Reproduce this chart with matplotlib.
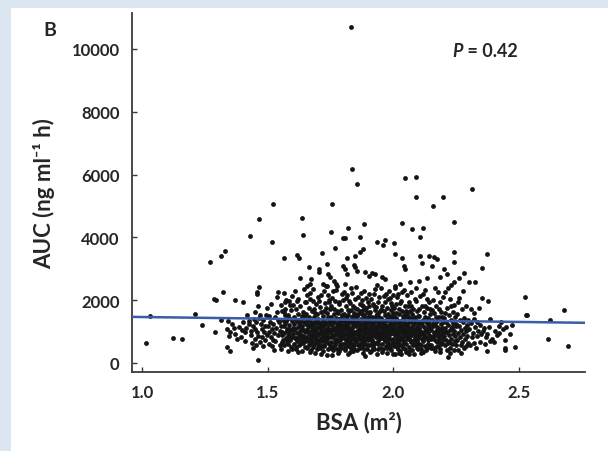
import matplotlib
matplotlib.use("Agg")
import matplotlib.pyplot as plt
from matplotlib.patches import Rectangle

# ---------------- data (BSA in m^2, AUC in ng ml-1 h) ----------------
pts_sparse_left = [(1.017, 637), (1.030, 1487), (1.122, 796), (1.159, 754), (1.212, 1571),
                   (1.238, 1210), (1.270, 3226), (1.286, 2038), (1.294, 1997), (1.292, 977),
                   (1.315, 3398), (1.316, 1360), (1.324, 2251), (1.330, 3567), (1.337, 500),
                   (1.352, 392), (1.345, 870), (1.337, 1083), (1.344, 1347), (1.350, 977)]

pts_upper = [(1.830, 10700),
             (1.523, 5054), (1.465, 4576), (1.636, 4628), (1.756, 5073), (1.428, 4054), (1.517, 3843),
             (1.640, 4076), (1.752, 4182), (1.563, 3334), (1.616, 3440), (1.625, 3354), (1.717, 3503),
             (1.768, 3662), (1.664, 3046), (1.736, 3153), (1.629, 2697), (1.706, 2994), (1.706, 2888),
             (1.742, 2834), (1.749, 2729), (1.673, 2675), (1.465, 2430), (1.656, 2462), (1.669, 2516),
             (1.722, 2516), (1.736, 2462), (1.762, 2621), (1.776, 2462),
             (1.835, 6178), (1.855, 5710), (2.045, 5882), (2.089, 5924), (2.089, 5287), (2.199, 5287),
             (2.315, 5532), (2.158, 4990), (2.240, 4490), (2.036, 4448), (1.883, 4417), (1.820, 4299),
             (2.073, 4268), (2.117, 4289), (2.108, 4024), (1.800, 3971), (1.809, 3990), (1.869, 4001),
             (1.937, 3843), (1.959, 3758), (1.968, 3927), (2.001, 3812), (1.878, 3631), (1.869, 3525),
             (2.005, 3461), (2.035, 3354), (2.108, 3408), (2.161, 3365), (2.174, 3312), (2.240, 3545),
             (2.240, 3206), (1.816, 3354), (1.849, 3398), (1.800, 3100), (1.807, 2994), (1.816, 2834),
             (1.842, 3121), (1.849, 3046), (1.855, 2940), (1.888, 2888), (1.902, 2780), (1.915, 2866),
             (1.928, 2834), (1.955, 2729), (1.968, 2675), (2.041, 3100), (2.048, 2994), (2.114, 3185),
             (2.154, 3100), (2.141, 3398), (2.200, 2994), (2.213, 2834), (2.187, 2729), (2.280, 2866),
             (2.327, 2570), (2.300, 2570), (2.068, 2570), (2.101, 2621), (2.134, 2697), (2.008, 2462),
             (2.028, 2516), (2.371, 3462), (2.353, 3035)]

pts_138 = [(1.371, 2016), (1.400, 1952), (1.459, 2271), (1.457, 2197), (1.463, 1826), (1.424, 1347),
           (1.464, 1423), (1.357, 1242), (1.364, 1105), (1.371, 924), (1.397, 1061), (1.410, 997),
           (1.443, 1188), (1.450, 1083), (1.457, 977), (1.463, 870), (1.410, 710), (1.450, 764),
           (1.470, 658), (1.483, 551), (1.463, 105), (1.385, 1160), (1.392, 820), (1.418, 1520),
           (1.432, 905), (1.438, 640), (1.447, 1410), (1.402, 1290), (1.426, 1230), (1.441, 480),
           (1.455, 1290), (1.378, 760), (1.415, 1130), (1.433, 1030), (1.452, 560), (1.448, 1620)]

pts_146 = [(1.478, 1083), (1.485, 977), (1.491, 1188), (1.504, 977), (1.517, 1083), (1.504, 1506),
           (1.530, 1455), (1.517, 551), (1.530, 710), (1.556, 658), (1.576, 764), (1.563, 1188),
           (1.576, 1401), (1.583, 1083), (1.570, 1720), (1.563, 1614), (1.543, 2271), (1.536, 2090),
           (1.472, 1250), (1.476, 820), (1.481, 1360), (1.489, 720), (1.495, 1540), (1.498, 890),
           (1.502, 1180), (1.507, 620), (1.511, 1320), (1.514, 830), (1.520, 1250), (1.524, 950),
           (1.527, 420), (1.533, 1130), (1.537, 1620), (1.541, 880), (1.545, 1290), (1.548, 560),
           (1.551, 1010), (1.553, 1840), (1.497, 1760), (1.468, 1520), (1.512, 1880), (1.540, 1380),
           (1.522, 740)]

pts_155 = [(1.552, 1180), (1.555, 430), (1.558, 880), (1.561, 1370), (1.563, 940), (1.566, 560),
           (1.568, 1260), (1.571, 810), (1.573, 2010), (1.575, 1090), (1.577, 660), (1.579, 1530),
           (1.581, 370), (1.583, 930), (1.585, 1210), (1.587, 720), (1.589, 1860), (1.591, 1040),
           (1.593, 500), (1.595, 1340), (1.597, 840), (1.599, 1120), (1.558, 1650), (1.564, 2240),
           (1.570, 1950), (1.576, 1010), (1.582, 610), (1.586, 1430), (1.590, 780), (1.594, 1700),
           (1.598, 460), (1.561, 740), (1.567, 1530), (1.584, 1960), (1.596, 2120), (1.572, 1340),
           (1.588, 1060), (1.556, 990), (1.579, 870)]

pts_160 = [(1.601, 920), (1.603, 1480), (1.604, 610), (1.606, 1230), (1.607, 2280), (1.609, 780),
           (1.610, 1090), (1.612, 1710), (1.613, 430), (1.615, 1350), (1.616, 960), (1.618, 690),
           (1.619, 1560), (1.621, 1140), (1.622, 2050), (1.624, 820), (1.625, 560), (1.627, 1290),
           (1.628, 1010), (1.630, 1820), (1.631, 720), (1.633, 1410), (1.634, 890), (1.636, 380),
           (1.637, 1190), (1.639, 640), (1.640, 1620), (1.642, 1060), (1.643, 2370), (1.645, 790),
           (1.646, 1320), (1.648, 510), (1.649, 980), (1.602, 1840), (1.611, 520), (1.617, 1980),
           (1.623, 1270), (1.629, 600), (1.635, 1510), (1.641, 870), (1.647, 1940), (1.605, 1040),
           (1.614, 810), (1.626, 940), (1.638, 1090), (1.644, 1460), (1.620, 350), (1.632, 1170),
           (1.650, 700), (1.608, 1390)]

pts_165 = [(1.651, 1250), (1.652, 820), (1.654, 1560), (1.655, 470), (1.657, 1080), (1.658, 2180),
           (1.660, 690), (1.661, 1390), (1.663, 930), (1.664, 1760), (1.666, 560), (1.667, 1180),
           (1.669, 790), (1.670, 2040), (1.672, 1320), (1.673, 420), (1.675, 1020), (1.676, 1640),
           (1.678, 730), (1.679, 1210), (1.681, 900), (1.682, 2350), (1.684, 600), (1.685, 1450),
           (1.687, 1090), (1.688, 330), (1.690, 830), (1.691, 1870), (1.693, 1270), (1.694, 680),
           (1.696, 980), (1.697, 1560), (1.699, 530), (1.653, 1940), (1.659, 1010), (1.665, 1470),
           (1.671, 640), (1.677, 1110), (1.683, 1720), (1.689, 950), (1.695, 1380), (1.656, 750),
           (1.662, 1200), (1.668, 2230), (1.674, 870), (1.680, 510), (1.686, 1300), (1.692, 760),
           (1.698, 1160), (1.700, 2100), (1.667, 360), (1.689, 1580), (1.657, 1330), (1.679, 1960),
           (1.695, 450)]

pts_170 = [(1.701, 880), (1.702, 1410), (1.704, 620), (1.705, 1130), (1.707, 1790), (1.708, 960),
           (1.710, 470), (1.711, 1270), (1.713, 800), (1.714, 2160), (1.716, 1050), (1.717, 690),
           (1.719, 1500), (1.720, 370), (1.722, 1180), (1.723, 910), (1.725, 1660), (1.726, 560),
           (1.728, 1320), (1.729, 1000), (1.731, 2450), (1.732, 760), (1.734, 1230), (1.735, 250),
           (1.737, 1590), (1.738, 880), (1.740, 1110), (1.741, 640), (1.743, 1930), (1.744, 1360),
           (1.746, 820), (1.747, 480), (1.749, 1050), (1.703, 1980), (1.709, 1150), (1.715, 540),
           (1.721, 1380), (1.727, 860), (1.733, 1760), (1.739, 430), (1.745, 1230), (1.706, 730),
           (1.712, 1620), (1.718, 1040), (1.724, 2290), (1.730, 690), (1.736, 980), (1.742, 1460),
           (1.748, 580), (1.750, 1720), (1.713, 300), (1.727, 1910), (1.741, 2180), (1.705, 1280),
           (1.719, 820), (1.733, 1090), (1.747, 1320), (1.711, 950), (1.737, 750), (1.723, 530),
           (1.745, 2020)]

pts_175 = [(1.751, 940), (1.752, 1480), (1.754, 660), (1.755, 1200), (1.757, 2060), (1.758, 830),
           (1.760, 1330), (1.761, 410), (1.763, 1050), (1.764, 1710), (1.766, 740), (1.767, 1130),
           (1.769, 560), (1.770, 1420), (1.772, 920), (1.773, 2340), (1.775, 1260), (1.776, 690),
           (1.778, 1000), (1.779, 1580), (1.781, 330), (1.782, 1170), (1.784, 850), (1.785, 1890),
           (1.787, 620), (1.788, 1350), (1.790, 1020), (1.791, 470), (1.793, 1240), (1.794, 780),
           (1.796, 2200), (1.797, 1090), (1.799, 900), (1.753, 1820), (1.759, 500), (1.765, 1290),
           (1.771, 770), (1.777, 1640), (1.783, 1410), (1.789, 720), (1.795, 1530), (1.756, 1080),
           (1.762, 880), (1.768, 1960), (1.774, 450), (1.780, 1100), (1.786, 960), (1.792, 1700),
           (1.798, 600), (1.800, 1370), (1.757, 270), (1.771, 2500), (1.785, 380), (1.799, 2010),
           (1.763, 1560), (1.777, 980), (1.791, 1170), (1.754, 1370), (1.768, 640), (1.782, 1950),
           (1.796, 840), (1.760, 2300), (1.774, 1190), (1.788, 540), (1.793, 1430)]

pts_180 = [(1.801, 1010), (1.802, 620), (1.804, 1560), (1.805, 880), (1.807, 1240), (1.808, 420),
           (1.810, 1810), (1.811, 1090), (1.813, 730), (1.814, 1390), (1.816, 960), (1.817, 2150),
           (1.819, 540), (1.820, 1180), (1.822, 820), (1.823, 1640), (1.825, 1040), (1.826, 350),
           (1.828, 1290), (1.829, 690), (1.831, 2380), (1.832, 930), (1.834, 1470), (1.835, 590),
           (1.837, 1110), (1.838, 1830), (1.840, 790), (1.841, 1330), (1.843, 460), (1.844, 1000),
           (1.846, 2030), (1.847, 1230), (1.849, 700), (1.803, 2270), (1.809, 1330), (1.815, 650),
           (1.821, 1530), (1.827, 1900), (1.833, 760), (1.839, 1210), (1.845, 1590), (1.806, 490),
           (1.812, 1130), (1.818, 870), (1.824, 1990), (1.830, 1070), (1.836, 1380), (1.842, 580),
           (1.848, 1440), (1.850, 950), (1.807, 2500), (1.821, 280), (1.835, 2230), (1.849, 1760),
           (1.813, 1450), (1.827, 1010), (1.841, 900), (1.804, 1140), (1.818, 1700), (1.832, 480),
           (1.846, 810), (1.810, 770), (1.824, 610), (1.838, 1500), (1.844, 1260), (1.816, 1260),
           (1.830, 1680), (1.839, 380), (1.826, 880), (1.812, 2080)]

pts_185 = [(1.851, 1180), (1.852, 700), (1.854, 1490), (1.855, 960), (1.857, 420), (1.858, 1300),
           (1.860, 830), (1.861, 2110), (1.863, 1070), (1.864, 610), (1.866, 1650), (1.867, 1200),
           (1.869, 890), (1.870, 1400), (1.872, 510), (1.873, 1020), (1.875, 1840), (1.876, 760),
           (1.878, 1270), (1.879, 330), (1.881, 1090), (1.882, 2290), (1.884, 690), (1.885, 1520),
           (1.887, 940), (1.888, 210), (1.890, 1160), (1.891, 800), (1.893, 1760), (1.894, 1350),
           (1.896, 570), (1.897, 1040), (1.899, 1950), (1.853, 2420), (1.859, 1560), (1.865, 760),
           (1.871, 1150), (1.877, 2000), (1.883, 1420), (1.889, 620), (1.895, 1250), (1.856, 1020),
           (1.862, 1330), (1.868, 470), (1.874, 1570), (1.880, 860), (1.886, 1190), (1.892, 1010),
           (1.898, 720), (1.900, 1460), (1.857, 1730), (1.871, 2230), (1.885, 440), (1.899, 880),
           (1.863, 940), (1.877, 550), (1.891, 2060), (1.852, 1270), (1.866, 1080), (1.880, 1680),
           (1.894, 460), (1.869, 1870), (1.883, 990), (1.897, 1610), (1.874, 680), (1.888, 1330),
           (1.860, 580), (1.878, 1810), (1.893, 1200)]

pts_190 = [(1.901, 1010), (1.902, 560), (1.904, 1340), (1.905, 870), (1.907, 1620), (1.908, 1130),
           (1.910, 380), (1.911, 960), (1.913, 2040), (1.914, 1250), (1.916, 730), (1.917, 1470),
           (1.919, 1060), (1.920, 490), (1.922, 1810), (1.923, 900), (1.925, 1190), (1.926, 650),
           (1.928, 2350), (1.929, 1390), (1.931, 820), (1.932, 1080), (1.934, 300), (1.935, 1560),
           (1.937, 960), (1.938, 1230), (1.940, 590), (1.941, 1940), (1.943, 1120), (1.944, 770),
           (1.946, 1370), (1.947, 470), (1.949, 1000), (1.903, 2200), (1.909, 1450), (1.915, 640),
           (1.921, 1280), (1.927, 1690), (1.933, 850), (1.939, 1490), (1.945, 2100), (1.906, 760),
           (1.912, 1180), (1.918, 1870), (1.924, 430), (1.930, 1000), (1.936, 2490), (1.942, 1310),
           (1.948, 830), (1.950, 1700), (1.907, 350), (1.921, 670), (1.935, 1160), (1.949, 1250),
           (1.913, 820), (1.927, 1060), (1.941, 460), (1.904, 1580), (1.918, 540), (1.932, 1790),
           (1.946, 950), (1.910, 1260), (1.924, 2210), (1.938, 700), (1.916, 1010), (1.930, 1510),
           (1.944, 1630), (1.902, 1820), (1.926, 1340), (1.940, 880)]

pts_195 = [(1.951, 890), (1.952, 1420), (1.954, 620), (1.955, 1130), (1.957, 1830), (1.958, 980),
           (1.960, 440), (1.961, 1290), (1.963, 760), (1.964, 2120), (1.966, 1060), (1.967, 1540),
           (1.969, 540), (1.970, 1200), (1.972, 890), (1.973, 1740), (1.975, 330), (1.976, 1370),
           (1.978, 1000), (1.979, 680), (1.981, 2280), (1.982, 1150), (1.984, 810), (1.985, 1480),
           (1.987, 470), (1.988, 1070), (1.990, 1920), (1.991, 1250), (1.993, 720), (1.994, 1380),
           (1.996, 960), (1.997, 280), (1.999, 1600), (1.953, 2390), (1.959, 1140), (1.965, 700),
           (1.971, 1380), (1.977, 2030), (1.983, 580), (1.989, 1160), (1.995, 1820), (1.956, 1250),
           (1.962, 1650), (1.968, 850), (1.974, 1090), (1.980, 1560), (1.986, 1270), (1.992, 400),
           (1.998, 1040), (2.000, 770), (1.957, 360), (1.971, 2200), (1.985, 920), (1.999, 2150),
           (1.963, 1350), (1.977, 600), (1.991, 1680), (1.954, 780), (1.968, 1930), (1.982, 1010),
           (1.996, 1500), (1.960, 990), (1.974, 480), (1.988, 2060), (1.966, 1190), (1.980, 810),
           (1.994, 620), (1.952, 1700), (1.978, 1420), (1.992, 1180)]

pts_200 = [(2.001, 1110), (2.002, 640), (2.004, 1470), (2.005, 890), (2.007, 300), (2.008, 1250),
           (2.010, 770), (2.011, 1880), (2.013, 1030), (2.014, 520), (2.016, 1380), (2.017, 920),
           (2.019, 2200), (2.020, 1160), (2.022, 690), (2.023, 1560), (2.025, 380), (2.026, 1060),
           (2.028, 1330), (2.029, 810), (2.031, 1990), (2.032, 1200), (2.034, 560), (2.035, 950),
           (2.037, 1490), (2.038, 720), (2.040, 1120), (2.041, 2340), (2.043, 860), (2.044, 1290),
           (2.046, 430), (2.047, 1030), (2.049, 1650), (2.003, 1760), (2.009, 1000), (2.015, 2090),
           (2.021, 1270), (2.027, 580), (2.033, 1640), (2.039, 990), (2.045, 1830), (2.006, 1310),
           (2.012, 1580), (2.018, 460), (2.024, 850), (2.030, 1120), (2.036, 2260), (2.042, 660),
           (2.048, 1210), (2.050, 890), (2.007, 2380), (2.021, 330), (2.035, 1380), (2.049, 360),
           (2.013, 760), (2.027, 1900), (2.041, 1420), (2.004, 550), (2.018, 1040), (2.032, 290),
           (2.046, 1560), (2.010, 1420), (2.024, 1720), (2.038, 480), (2.016, 640)]

pts_205 = [(2.051, 1240), (2.052, 620), (2.054, 1560), (2.055, 940), (2.057, 340), (2.058, 1180),
           (2.060, 780), (2.061, 1930), (2.063, 1030), (2.064, 500), (2.066, 1420), (2.067, 860),
           (2.069, 2270), (2.070, 1130), (2.072, 660), (2.073, 1310), (2.075, 400), (2.076, 990),
           (2.078, 1720), (2.079, 1210), (2.081, 740), (2.082, 1470), (2.084, 300), (2.085, 1060),
           (2.087, 2050), (2.088, 840), (2.090, 1350), (2.091, 560), (2.093, 1150), (2.094, 920),
           (2.096, 1640), (2.097, 430), (2.099, 1020), (2.053, 2150), (2.059, 1480), (2.065, 720),
           (2.071, 1810), (2.077, 580), (2.083, 1270), (2.089, 1980), (2.095, 700), (2.056, 1070),
           (2.062, 1290), (2.068, 420), (2.074, 1560), (2.080, 960), (2.086, 1390), (2.092, 2400),
           (2.098, 1250), (2.100, 810), (2.057, 1800), (2.071, 900), (2.085, 620), (2.099, 1510),
           (2.063, 280), (2.077, 1390), (2.091, 880), (2.054, 760), (2.068, 1650), (2.082, 1080),
           (2.096, 480)]

pts_210 = [(2.101, 1130), (2.102, 610), (2.104, 1490), (2.105, 880), (2.107, 2120), (2.108, 1020),
           (2.110, 450), (2.111, 1280), (2.113, 760), (2.114, 1830), (2.116, 960), (2.117, 350),
           (2.119, 1380), (2.120, 690), (2.122, 1160), (2.123, 1620), (2.125, 530), (2.126, 1020),
           (2.128, 2330), (2.129, 840), (2.131, 1290), (2.132, 410), (2.134, 1090), (2.135, 1750),
           (2.137, 720), (2.138, 1210), (2.140, 960), (2.141, 1940), (2.143, 580), (2.144, 1370),
           (2.146, 850), (2.147, 1130), (2.149, 480), (2.103, 1730), (2.109, 580), (2.115, 1220),
           (2.121, 880), (2.127, 1460), (2.133, 2050), (2.139, 620), (2.145, 1560), (2.106, 1300),
           (2.112, 990), (2.118, 2210), (2.124, 790), (2.130, 1040), (2.136, 470), (2.142, 1230),
           (2.148, 1720), (2.150, 760), (2.112, 330), (2.126, 1830), (2.140, 1420)]

pts_215 = [(2.151, 1050), (2.152, 580), (2.154, 1380), (2.155, 820), (2.157, 2010), (2.158, 1170),
           (2.160, 470), (2.161, 960), (2.163, 1580), (2.164, 720), (2.166, 1240), (2.167, 370),
           (2.169, 1030), (2.170, 1810), (2.172, 660), (2.173, 1330), (2.175, 890), (2.176, 2260),
           (2.178, 1120), (2.179, 540), (2.181, 1460), (2.182, 800), (2.184, 1060), (2.185, 1930),
           (2.187, 430), (2.188, 1240), (2.190, 900), (2.191, 1620), (2.193, 640), (2.194, 1110),
           (2.196, 2100), (2.197, 760), (2.199, 1320), (2.153, 1700), (2.159, 1230), (2.165, 2400),
           (2.171, 500), (2.177, 950), (2.183, 1720), (2.189, 620), (2.195, 1450), (2.162, 850),
           (2.174, 1140), (2.186, 360), (2.198, 990), (2.168, 1480), (2.180, 700)]

pts_220 = [(2.201, 870), (2.203, 1420), (2.204, 560), (2.206, 1130), (2.207, 2250), (2.209, 740),
           (2.210, 1300), (2.212, 410), (2.213, 980), (2.215, 1760), (2.216, 640), (2.218, 1210),
           (2.219, 190), (2.221, 1540), (2.222, 880), (2.224, 2030), (2.225, 1060), (2.227, 480),
           (2.228, 1380), (2.230, 760), (2.231, 2480), (2.233, 1140), (2.234, 590), (2.236, 1610),
           (2.237, 930), (2.239, 1270), (2.240, 420), (2.242, 1850), (2.243, 1020), (2.245, 700),
           (2.246, 1470), (2.248, 1180), (2.250, 560), (2.205, 1600), (2.211, 1000), (2.217, 2400),
           (2.223, 680), (2.229, 1820), (2.235, 1130), (2.241, 2590), (2.247, 860), (2.226, 330)]

pts_225 = [(2.251, 1240), (2.253, 720), (2.255, 1560), (2.257, 950), (2.259, 400), (2.261, 1180),
           (2.263, 2080), (2.265, 830), (2.267, 1370), (2.269, 580), (2.271, 1050), (2.273, 1720),
           (2.275, 680), (2.277, 1290), (2.279, 910), (2.281, 470), (2.283, 1440), (2.285, 1100),
           (2.287, 760), (2.289, 1830), (2.291, 540), (2.293, 1200), (2.295, 870), (2.297, 1360),
           (2.299, 650), (2.262, 2700), (2.258, 1930), (2.276, 2300), (2.288, 1020), (2.268, 310)]

pts_230 = [(2.323, 1401), (2.311, 1720), (2.384, 1411), (2.357, 1029), (2.373, 924), (2.393, 764),
           (2.400, 658), (2.386, 710), (2.344, 658), (2.323, 637), (2.314, 818), (2.367, 818),
           (2.374, 382), (2.422, 1188), (2.420, 946), (2.449, 1137), (2.445, 742), (2.466, 924),
           (2.471, 1220), (2.445, 467), (2.443, 404), (2.485, 520), (2.353, 2080), (2.376, 1975),
           (2.303, 1090), (2.306, 560), (2.309, 1280), (2.317, 940), (2.320, 1580), (2.326, 1150),
           (2.329, 480), (2.332, 860), (2.335, 1320), (2.338, 1010), (2.341, 1750), (2.347, 1200),
           (2.350, 930), (2.360, 1100), (2.363, 600), (2.380, 1140), (2.405, 1030), (2.412, 880),
           (2.430, 1290), (2.437, 1080)]

pts_sparse_right = [(2.523, 2092), (2.529, 1516), (2.533, 1516), (2.680, 1678), (2.624, 1370),
                    (2.616, 754), (2.694, 551)]

# regression line (fitted AUC vs BSA) at the two axis ends
fit_bsa = [0.96, 2.763]
fit_auc = [1468, 1280]

p_label = "P"
p_value = " = 0.42"
x_ticks = [1.0, 1.5, 2.0, 2.5]
x_ticklabels = ["1.0", "1.5", "2.0", "2.5"]
y_ticks = [0, 2000, 4000, 6000, 8000, 10000]
y_ticklabels = ["0", "2000", "4000", "6000", "8000", "10000"]

groups = [pts_sparse_left, pts_upper, pts_138, pts_146, pts_155, pts_160, pts_165, pts_170,
          pts_175, pts_180, pts_185, pts_190, pts_195, pts_200, pts_205, pts_210, pts_215,
          pts_220, pts_225, pts_230, pts_sparse_right]
bsa = [p[0] for g in groups for p in g]
auc = [p[1] for g in groups for p in g]

# ---------------- figure ----------------
FONT = ["Lato", "DejaVu Sans"]
plt.rcParams["font.family"] = FONT
TXT = "#262626"

W, H = 608, 452
fig = plt.figure(figsize=(W / 100, H / 100), dpi=100, facecolor="#dce6f0")
fig.patches.append(Rectangle((11 / W, 0), 1, 1 - 9 / H, transform=fig.transFigure,
                             facecolor="white", edgecolor="none", zorder=-10))

ax = fig.add_axes([132 / W, 1 - 373 / H, (585 - 132) / W, (373 - 14) / H])
ax.set_facecolor("none")
ax.set_zorder(5)

ax.scatter(bsa, auc, s=12, c="#141414", linewidths=0, zorder=2)
ax.plot(fit_bsa, fit_auc, color="#3a5ba6", lw=1.8, zorder=3, solid_capstyle="butt")

ax.set_xlim(0.96, 2.763)
ax.set_ylim(-287, 11146)

for s in ["top", "right"]:
    ax.spines[s].set_visible(False)
for s in ["left", "bottom"]:
    ax.spines[s].set_color("#3a3a3a")
    ax.spines[s].set_linewidth(1.3)

ax.set_xticks(x_ticks)
ax.set_xticklabels(x_ticklabels)
ax.set_yticks(y_ticks)
ax.set_yticklabels(y_ticklabels)
ax.tick_params(axis="both", direction="in", length=3.5, width=1.0, color="#3a3a3a",
               labelcolor=TXT, labelsize=12)
ax.tick_params(axis="x", pad=9)
ax.tick_params(axis="y", pad=9)
for lab in ax.get_xticklabels() + ax.get_yticklabels():
    lab.set_fontweight("bold")

ax.set_xlabel("BSA (m\u00b2)", fontsize=16, fontweight="bold", color=TXT, labelpad=7)
ax.set_ylabel("AUC (ng ml\u207b\u00b9 h)", fontsize=16, fontweight="bold", color=TXT, labelpad=12)

fig.text(50 / W, 1 - 30 / H, "B", fontsize=14, fontweight="bold", color=TXT,
         ha="center", va="center")
tp = ax.text(0.707, 0.895, p_label, transform=ax.transAxes, fontsize=13, fontweight="bold",
             fontstyle="italic", color=TXT, ha="left", va="center")
fig.canvas.draw()
bb = tp.get_window_extent()
x_after = ax.transAxes.inverted().transform((bb.x1, 0))[0]
ax.text(x_after, 0.895, p_value, transform=ax.transAxes, fontsize=13, fontweight="bold",
        color=TXT, ha="left", va="center")

fig.savefig("out.png", dpi=100, facecolor=fig.get_facecolor())
